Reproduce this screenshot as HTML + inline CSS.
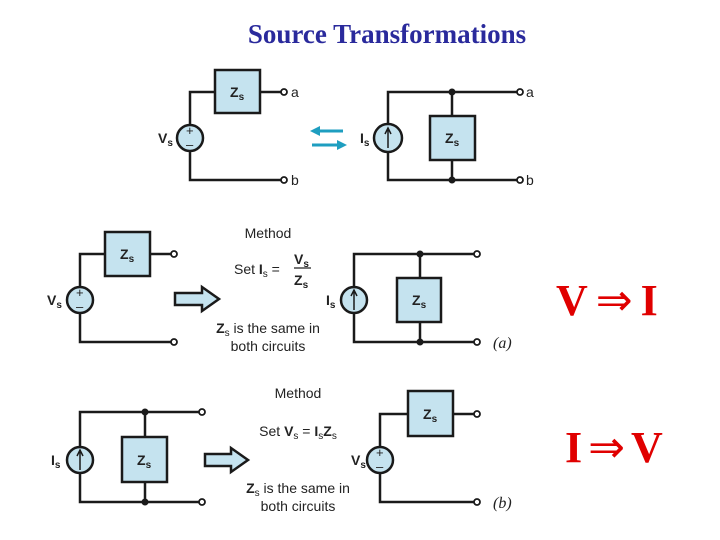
<!DOCTYPE html>
<html><head><meta charset="utf-8"><style>
html,body{margin:0;padding:0;background:#fff;width:720px;height:540px;overflow:hidden}
svg{display:block}
.w{stroke:#1a1a1a;stroke-width:2.5;fill:none}
.bx{fill:#c5e3ef;stroke:#1a1a1a;stroke-width:2.5}
.t{fill:#fff;stroke:#1a1a1a;stroke-width:1.8}
.d{fill:#1a1a1a}
.l{font-family:"Liberation Sans",sans-serif;font-size:14px;fill:#222}
.b{font-family:"Liberation Sans",sans-serif;font-size:14px;font-weight:bold;fill:#222}
.s{font-family:"Liberation Sans",sans-serif;font-size:10px;fill:#222}
.pm{font-family:"Liberation Sans",sans-serif;font-size:13px;fill:#222}
.it{font-family:"Liberation Serif",serif;font-style:italic;font-size:16px;fill:#222}
.r{font-family:"Liberation Serif",serif;font-weight:bold;font-size:44px;fill:#e00000}
</style></head><body>
<svg width="720" height="540" viewBox="0 0 720 540">
<text x="387" y="43" text-anchor="middle" font-family="Liberation Serif,serif" font-weight="bold" font-size="27" fill="#2a2a9c">Source Transformations</text>

<!-- top left -->
<path class="w" d="M215 92H190V180H281M260 92H281"/>
<rect class="bx" x="215" y="70" width="45" height="43"/>
<text class="b" x="230" y="97">Z<tspan class="s" dy="3">s</tspan></text>
<circle class="bx" cx="190" cy="138" r="13"/>
<text class="pm" x="186" y="135">+</text><text class="pm" x="186" y="149">–</text>
<text class="b" x="158" y="143">V<tspan class="s" dy="3">s</tspan></text>
<circle class="t" cx="284" cy="92" r="3"/><circle class="t" cx="284" cy="180" r="3"/>
<text class="l" x="291" y="97">a</text><text class="l" x="291" y="185">b</text>

<!-- arrows -->
<path d="M343 131H318" stroke="#1e9ec0" stroke-width="3"/><path d="M310 131L320 126V136Z" fill="#1e9ec0"/>
<path d="M312 145H338" stroke="#1e9ec0" stroke-width="3"/><path d="M347 145L337 140V150Z" fill="#1e9ec0"/>

<!-- top right -->
<path class="w" d="M517 92H388V180H517M452 92V180"/>
<rect class="bx" x="430" y="116" width="45" height="44"/>
<text class="b" x="445" y="143">Z<tspan class="s" dy="3">s</tspan></text>
<circle class="bx" cx="388" cy="138" r="14"/>
<path d="M388 148V130M385 134L388 128L391 134" stroke="#1a1a1a" stroke-width="1.5" fill="none"/>
<text class="b" x="360" y="143">I<tspan class="s" dy="3">s</tspan></text>
<circle class="d" cx="452" cy="92" r="3.5"/><circle class="d" cx="452" cy="180" r="3.5"/>
<circle class="t" cx="520" cy="92" r="3"/><circle class="t" cx="520" cy="180" r="3"/>
<text class="l" x="526" y="97">a</text><text class="l" x="526" y="185">b</text>

<!-- middle left -->
<path class="w" d="M105 254H80V342H171M150 254H171"/>
<rect class="bx" x="105" y="232" width="45" height="44"/>
<text class="b" x="120" y="259">Z<tspan class="s" dy="3">s</tspan></text>
<circle class="bx" cx="80" cy="300" r="13"/>
<text class="pm" x="76" y="297">+</text><text class="pm" x="76" y="311">–</text>
<text class="b" x="47" y="305">V<tspan class="s" dy="3">s</tspan></text>
<circle class="t" cx="174" cy="254" r="3"/><circle class="t" cx="174" cy="342" r="3"/>
<path class="bx" stroke-width="2" d="M175 293H202V287L219 299L202 311V305H175Z"/>
<text class="l" x="268" y="238" text-anchor="middle" font-size="13">Method</text>
<text class="l" x="234" y="274" font-size="13">Set <tspan class="b">I</tspan><tspan class="s" dy="3">s</tspan><tspan dy="-3"> =</tspan></text>
<path d="M294 268H311" stroke="#222" stroke-width="1.2"/>
<text class="b" x="294" y="264" font-size="13">V<tspan class="s" dy="3">s</tspan></text>
<text class="b" x="294" y="285" font-size="13">Z<tspan class="s" dy="3">s</tspan></text>
<text class="l" x="268" y="333" text-anchor="middle" font-size="14"><tspan class="b">Z</tspan><tspan class="s" dy="3">s</tspan><tspan dy="-3"> is the same in</tspan></text>
<text class="l" x="268" y="351" text-anchor="middle" font-size="14">both circuits</text>

<!-- middle right -->
<path class="w" d="M474 254H354V342H474M420 254V342"/>
<rect class="bx" x="397" y="278" width="44" height="44"/>
<text class="b" x="412" y="305">Z<tspan class="s" dy="3">s</tspan></text>
<circle class="bx" cx="354" cy="300" r="13"/>
<path d="M354 310V292M351 296L354 290L357 296" stroke="#1a1a1a" stroke-width="1.5" fill="none"/>
<text class="b" x="326" y="305">I<tspan class="s" dy="3">s</tspan></text>
<circle class="d" cx="420" cy="254" r="3.5"/><circle class="d" cx="420" cy="342" r="3.5"/>
<circle class="t" cx="477" cy="254" r="3"/><circle class="t" cx="477" cy="342" r="3"/>
<text class="it" x="493" y="348">(a)</text>

<!-- bottom left -->
<path class="w" d="M199 412H80V502H199M145 412V502"/>
<rect class="bx" x="122" y="437" width="45" height="45"/>
<text class="b" x="137" y="465">Z<tspan class="s" dy="3">s</tspan></text>
<circle class="bx" cx="80" cy="460" r="13"/>
<path d="M80 470V452M77 456L80 450L83 456" stroke="#1a1a1a" stroke-width="1.5" fill="none"/>
<text class="b" x="51" y="465">I<tspan class="s" dy="3">s</tspan></text>
<circle class="d" cx="145" cy="412" r="3.5"/><circle class="d" cx="145" cy="502" r="3.5"/>
<circle class="t" cx="202" cy="412" r="3"/><circle class="t" cx="202" cy="502" r="3"/>
<path class="bx" stroke-width="2" d="M205 454H231V448L248 460L231 472V466H205Z"/>
<text class="l" x="298" y="398" text-anchor="middle" font-size="13">Method</text>
<text class="l" x="298" y="436" text-anchor="middle" font-size="14">Set <tspan class="b">V</tspan><tspan class="s" dy="3">s</tspan><tspan dy="-3"> = </tspan><tspan class="b">I</tspan><tspan class="s" dy="3">s</tspan><tspan class="b" dy="-3">Z</tspan><tspan class="s" dy="3">s</tspan></text>
<text class="l" x="298" y="493" text-anchor="middle" font-size="14"><tspan class="b">Z</tspan><tspan class="s" dy="3">s</tspan><tspan dy="-3"> is the same in</tspan></text>
<text class="l" x="298" y="511" text-anchor="middle" font-size="14">both circuits</text>

<!-- bottom right -->
<path class="w" d="M408 414H380V502H474M453 414H474"/>
<rect class="bx" x="408" y="391" width="45" height="45"/>
<text class="b" x="423" y="419">Z<tspan class="s" dy="3">s</tspan></text>
<circle class="bx" cx="380" cy="460" r="13"/>
<text class="pm" x="376" y="457">+</text><text class="pm" x="376" y="471">–</text>
<text class="b" x="351" y="465">V<tspan class="s" dy="3">s</tspan></text>
<circle class="t" cx="477" cy="414" r="3"/><circle class="t" cx="477" cy="502" r="3"/>
<text class="it" x="493" y="508">(b)</text>

<text class="r" x="556" y="315">V<tspan font-weight="normal" font-size="44" dx="8">⇒</tspan><tspan dx="8">I</tspan></text>
<text class="r" x="565" y="462">I<tspan font-weight="normal" font-size="44" dx="6">⇒</tspan><tspan dx="6">V</tspan></text>
</svg>
</body></html>
